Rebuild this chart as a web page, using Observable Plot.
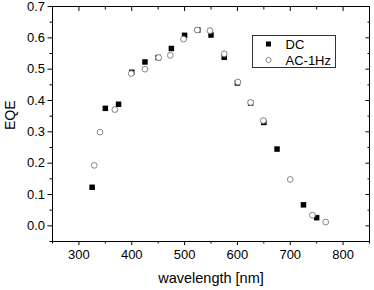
<!DOCTYPE html>
<html>
<head>
<meta charset="utf-8">
<script src="https://cdn.jsdelivr.net/npm/d3@7"></script>
<script src="https://cdn.jsdelivr.net/npm/@observablehq/plot@0.6"></script>
<style>
  html, body { margin: 0; padding: 0; background: #fff; }
  svg { display: block; }
</style>
</head>
<body>
<div id="chart"></div>
<script>
const dcWavelength = [325, 350, 375, 400, 425, 450, 475, 500, 525, 550, 575, 600, 625, 650, 675, 725, 750];
const dcEQE        = [0.123, 0.375, 0.388, 0.490, 0.523, 0.537, 0.566, 0.608, 0.625, 0.609, 0.538, 0.456, 0.392, 0.330, 0.245, 0.067, 0.026];
const acWavelength = [329, 340, 368, 399, 425, 451, 473, 498, 524, 548, 575, 601, 625, 649, 700, 742, 767];
const acEQE        = [0.193, 0.299, 0.371, 0.486, 0.500, 0.537, 0.544, 0.596, 0.625, 0.623, 0.549, 0.459, 0.394, 0.336, 0.148, 0.034, 0.012];
const seriesNames = ["DC", "AC-1Hz"];
const xMajorTicks = [300, 400, 500, 600, 700, 800];
const xMinorTicks = [250, 350, 450, 550, 650, 750, 850];
const yMajorTicks = [0.0, 0.1, 0.2, 0.3, 0.4, 0.5, 0.6, 0.7];
const yMinorTicks = [-0.05, 0.05, 0.15, 0.25, 0.35, 0.45, 0.55, 0.65];

const dc = dcWavelength.map((x, i) => ({x, y: dcEQE[i]}));
const ac = acWavelength.map((x, i) => ({x, y: acEQE[i]}));

const font = "Arial, 'Liberation Sans', Helvetica, sans-serif";

const plot = Plot.plot({
  width: 374,
  height: 290,
  marginLeft: 52,
  marginRight: 5,
  marginTop: 6,
  marginBottom: 49,
  style: {fontFamily: font, fontSize: "13px", color: "#000", background: "#fff"},
  x: {domain: [250, 850]},
  y: {domain: [-0.05, 0.7]},
  marks: [
    Plot.frame({stroke: "#000", strokeWidth: 1}),
    Plot.axisX({ticks: xMajorTicks, tickSize: 4, tickPadding: 4, tickFormat: d => String(d),
      label: null, fontSize: 13}),
    Plot.axisX({ticks: [], label: "wavelength [nm]", labelAnchor: "center", labelArrow: "none",
      labelOffset: 41, fontSize: 14.5}),
    Plot.axisX({ticks: xMinorTicks, tickSize: 2.5, label: null, text: null}),
    Plot.axisX({anchor: "top", ticks: xMajorTicks, tickSize: -4, text: null, label: null}),
    Plot.axisX({anchor: "top", ticks: xMinorTicks, tickSize: -2.5, text: null, label: null}),
    Plot.axisY({ticks: yMajorTicks, tickSize: 4.5, tickPadding: 3, tickFormat: d => d.toFixed(1),
      label: null, fontSize: 13}),
    Plot.text(["EQE"], {frameAnchor: "left", rotate: -90, dx: -42, dy: 6, fontSize: 14}),
    Plot.axisY({ticks: yMinorTicks, tickSize: 2.5, text: null, label: null}),
    Plot.axisY({anchor: "right", ticks: yMajorTicks, tickSize: -4.5, text: null, label: null}),
    Plot.axisY({anchor: "right", ticks: yMinorTicks, tickSize: -2.5, text: null, label: null}),
    Plot.dot(dc, {x: "x", y: "y", symbol: "square", r: 3.1, fill: "#000", stroke: "none"}),
    Plot.dot(ac, {x: "x", y: "y", symbol: "circle", r: 2.9, fill: "#fff", stroke: "#777", strokeWidth: 0.9})
  ]
});

// legend box inside the frame
const svg = d3.select(plot);
const lg = svg.append("g").attr("font-family", font).attr("font-size", 13)
  .attr("fill", "#000").attr("text-anchor", "start");
lg.append("rect").attr("x", 252.5).attr("y", 35.5).attr("width", 83).attr("height", 32)
  .attr("fill", "#fff").attr("stroke", "#333").attr("stroke-width", 1);
lg.append("rect").attr("x", 266).attr("y", 41.5).attr("width", 5).attr("height", 5).attr("fill", "#000");
lg.append("circle").attr("cx", 268.5).attr("cy", 60).attr("r", 2.6)
  .attr("fill", "#fff").attr("stroke", "#777").attr("stroke-width", 0.9);
lg.append("text").attr("x", 285.5).attr("y", 44).attr("dy", "0.35em").text(seriesNames[0]);
lg.append("text").attr("x", 285.5).attr("y", 60).attr("dy", "0.35em").text(seriesNames[1]);

document.getElementById("chart").appendChild(plot);
</script>
</body>
</html>
